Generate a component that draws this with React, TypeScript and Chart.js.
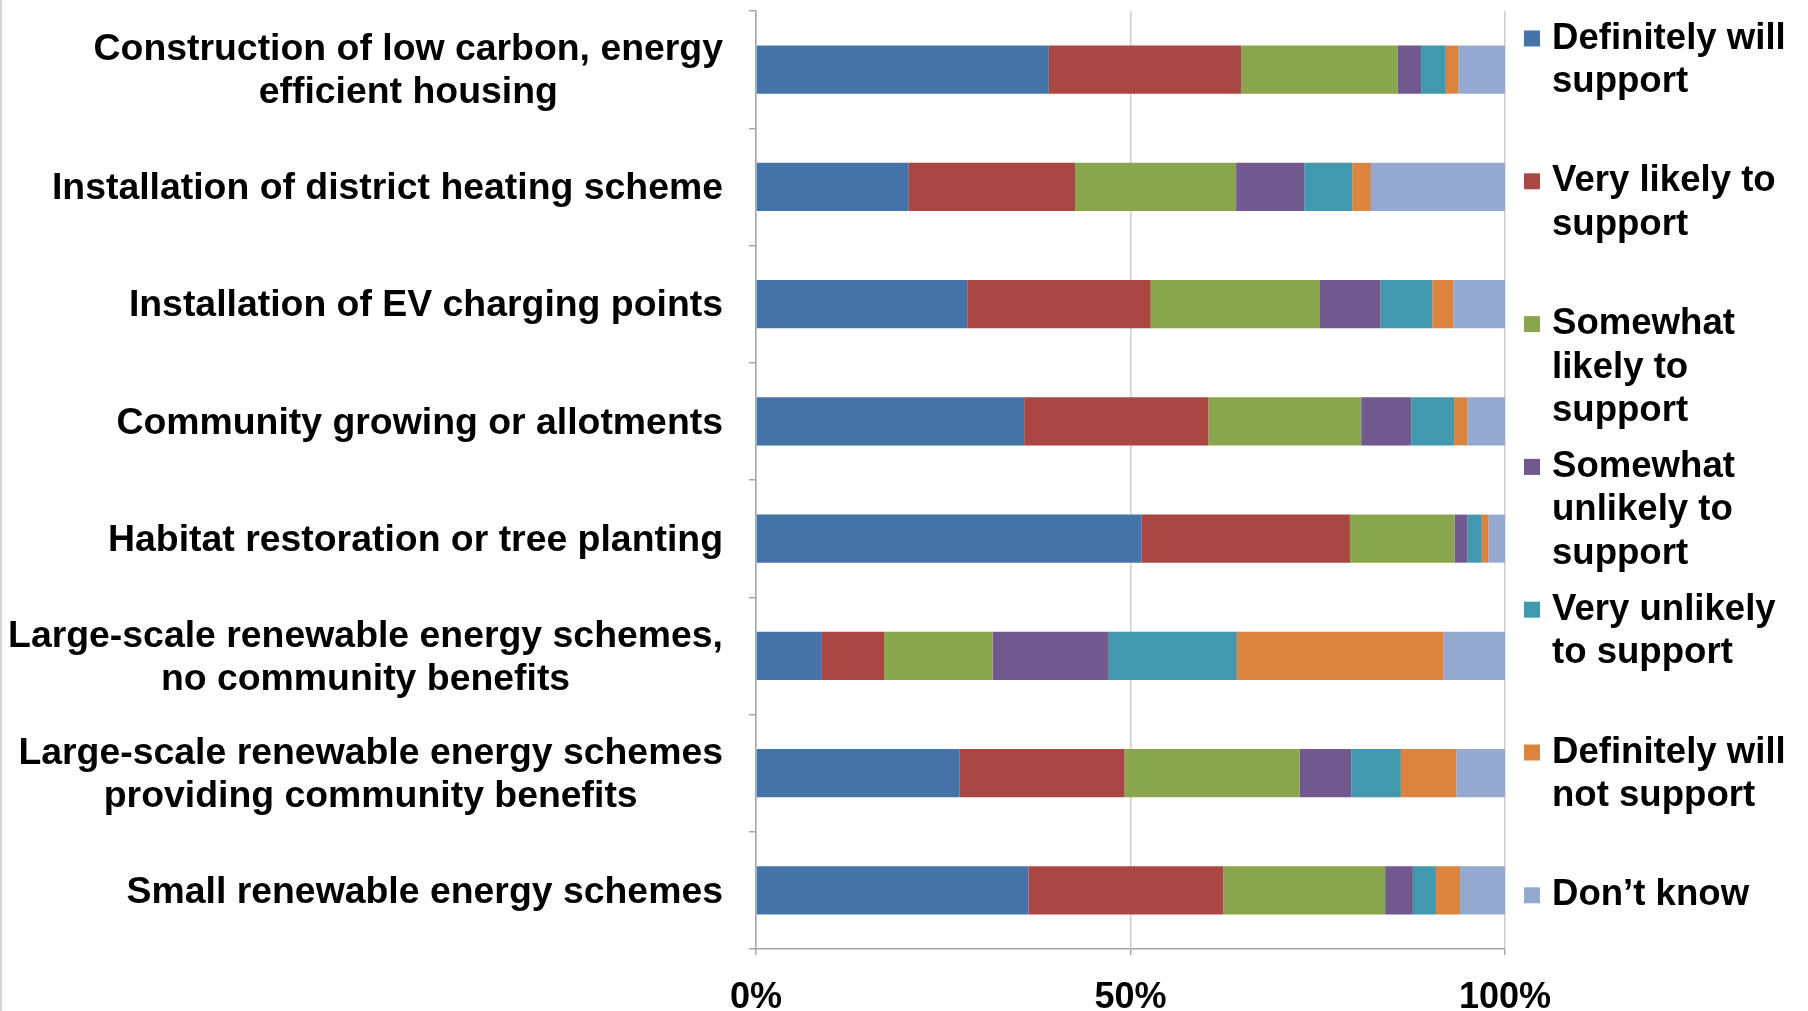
import React, { useEffect, useRef } from "react";
import { Chart, registerables } from "chart.js";

Chart.register(...registerables);

// ---- Data ----
const categories: string[][] = [
  ["Construction of low carbon, energy", "efficient housing"],
  ["Installation of district heating scheme"],
  ["Installation of EV charging points"],
  ["Community growing or allotments"],
  ["Habitat restoration or tree planting"],
  ["Large-scale renewable energy schemes,", "no community benefits"],
  ["Large-scale renewable energy schemes", "providing community benefits"],
  ["Small renewable energy schemes"],
];

const seriesNames: string[][] = [
  ["Definitely will", "support"],
  ["Very likely to", "support"],
  ["Somewhat", "likely to", "support"],
  ["Somewhat", "unlikely to", "support"],
  ["Very unlikely", "to support"],
  ["Definitely will", "not support"],
  ["Don\u2019t know"],
];

const seriesColors = ["#4572A7", "#AA4643", "#89A54E", "#71588F", "#4198AF", "#DB843D", "#93A9CF"];

const definitelyWill = [39.1, 20.4, 28.2, 35.8, 51.5, 8.8, 27.2, 36.4];
const veryLikely = [25.7, 22.2, 24.5, 24.6, 27.8, 8.3, 22.0, 26.0];
const somewhatLikely = [20.9, 21.5, 22.6, 20.4, 14.0, 14.5, 23.4, 21.6];
const somewhatUnlikely = [3.1, 9.1, 8.1, 6.7, 1.7, 15.5, 6.9, 3.7];
const veryUnlikely = [3.3, 6.4, 6.9, 5.7, 1.9, 17.1, 6.6, 3.1];
const definitelyNot = [1.7, 2.5, 2.8, 1.8, 0.9, 27.6, 7.4, 3.2];
const dontKnow = [6.2, 17.9, 6.9, 5.0, 2.2, 8.2, 6.5, 6.0];

const xTickValues = [0, 50, 100];

const seriesValues = [
  definitelyWill,
  veryLikely,
  somewhatLikely,
  somewhatUnlikely,
  veryUnlikely,
  definitelyNot,
  dontKnow,
];

const FONT_FAMILY = '"Liberation Sans", Arial, Helvetica, sans-serif';

const customDrawPlugin = {
  id: "customDraw",
  afterDraw(chart: any) {
    const ctx = chart.ctx as CanvasRenderingContext2D;
    const yScale = chart.scales.y;
    ctx.save();
    // outer left border of the chart frame
    ctx.fillStyle = "#d4d4d4";
    ctx.fillRect(0, 0, 2, chart.height);

    // category labels: block right-aligned, lines centred within block
    ctx.font = `bold 37.4px ${FONT_FAMILY}`;
    ctx.fillStyle = "#000000";
    ctx.textBaseline = "middle";
    ctx.textAlign = "center";
    const rightEdge = yScale.right - 33;
    categories.forEach((lines, i) => {
      const yc = yScale.getPixelForValue(i) + 2;
      const maxW = Math.max(...lines.map((l) => ctx.measureText(l).width));
      const cx = rightEdge - maxW / 2;
      lines.forEach((l, j) => {
        ctx.fillText(l, cx, yc + (j - (lines.length - 1) / 2) * 43);
      });
    });

    // legend
    ctx.font = `bold 36.6px ${FONT_FAMILY}`;
    ctx.textAlign = "left";
    const legendTop = 38.5;
    const legendStep = 142.8;
    seriesNames.forEach((lines, k) => {
      const y0 = legendTop + k * legendStep;
      ctx.fillStyle = seriesColors[k];
      ctx.fillRect(1524, y0 - 8, 16, 16);
      ctx.fillStyle = "#000000";
      lines.forEach((l, j) => {
        ctx.fillText(l, 1552, y0 + j * 43.5);
      });
    });
    ctx.restore();
  },
};

export default function App() {
  const canvasRef = useRef<HTMLCanvasElement | null>(null);

  useEffect(() => {
    if (!canvasRef.current) return;
    const chart = new Chart(canvasRef.current, {
      type: "bar",
      data: {
        labels: categories.map((c) => c.join(" ")),
        datasets: seriesNames.map((name, k) => ({
          label: name.join(" "),
          data: seriesValues[k],
          backgroundColor: seriesColors[k],
          borderWidth: 0,
          barPercentage: 0.41,
          categoryPercentage: 1,
        })),
      },
      options: {
        indexAxis: "y",
        responsive: false,
        animation: false,
        layout: { padding: { top: 11, right: 303, left: 0, bottom: 0 } },
        plugins: {
          legend: { display: false },
          tooltip: { enabled: false },
        },
        scales: {
          x: {
            stacked: true,
            min: 0,
            max: 100,
            afterBuildTicks: (scale: any) => {
              scale.ticks = xTickValues.map((v) => ({ value: v }));
            },
            afterFit: (scale: any) => {
              scale.height = 62;
            },
            grid: {
              color: "#cfcfcf",
              lineWidth: 1.5,
              drawTicks: true,
              tickLength: 6,
              tickColor: "#a6a6a6",
            },
            border: { display: true, color: "#a6a6a6", width: 1.5 },
            ticks: {
              padding: 21,
              color: "#000000",
              font: { family: FONT_FAMILY, size: 36, weight: "bold" },
              callback: (v: any) => `${v}%`,
              maxRotation: 0,
            },
          },
          y: {
            stacked: true,
            afterFit: (scale: any) => {
              scale.width = 756;
            },
            grid: {
              offset: true,
              drawOnChartArea: false,
              drawTicks: true,
              tickLength: 7,
              color: "#a6a6a6",
              lineWidth: 1.5,
            },
            border: { display: true, color: "#a6a6a6", width: 1.5 },
            ticks: { display: false },
          },
        },
      },
      plugins: [customDrawPlugin],
    } as any);
    return () => chart.destroy();
  }, []);

  return (
    <div
      style={{
        position: "absolute",
        left: 0,
        top: 0,
        width: 1808,
        height: 1011,
        background: "#ffffff",
        overflow: "hidden",
      }}
    >
      <canvas ref={canvasRef} width={1808} height={1011} style={{ display: "block" }} />
    </div>
  );
}
